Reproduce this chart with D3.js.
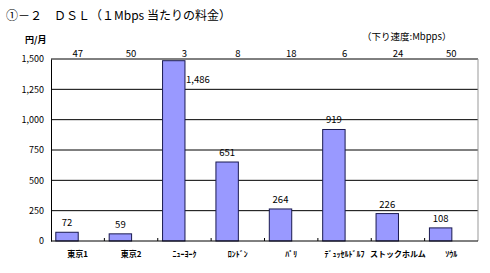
<!DOCTYPE html>
<html>
<head>
<meta charset="utf-8">
<script src="https://cdn.jsdelivr.net/npm/d3@7"></script>
<style>
  body { margin: 0; background: #fff; }
  svg text { font-family: "Noto Sans CJK JP", "Noto Sans", sans-serif; fill: #000; }
</style>
</head>
<body>
<svg id="chart" width="490" height="273"></svg>
<script>
// price per 1Mbps (yen/month)
var cities = ["東京1", "東京2", "ﾆｭｰﾖｰｸ", "ﾛﾝﾄﾞﾝ", "ﾊﾟﾘ", "ﾃﾞｭｯｾﾙﾄﾞﾙﾌ", "ストックホルム", "ｿｳﾙ"];
var prices = [72, 59, 1486, 651, 264, 919, 226, 108];
// downstream speed (Mbps)
var speeds = [47, 50, 3, 8, 18, 6, 24, 50];
var yTicks = [0, 250, 500, 750, 1000, 1250, 1500];

var plotL = 51, plotR = 478, plotT = 59, plotB = 241;

var svg = d3.select("#chart");

var x = d3.scaleBand().domain(cities).range([plotL, plotR]);
var y = d3.scaleLinear().domain([0, 1500]).range([plotB, plotT]);

// title
svg.append("text")
  .attr("x", 6).attr("y", 20)
  .attr("font-size", 12)
  .text("①－２　ＤＳＬ（１Mbps 当たりの料金）");

svg.append("text")
  .attr("x", 25).attr("y", 43)
  .attr("font-size", 9).attr("font-weight", "bold")
  .text("円/月");

svg.append("text")
  .attr("x", 362).attr("y", 40)
  .attr("font-size", 9.5)
  .text("（下り速度:Mbpps）");

// grid lines
svg.append("g")
  .selectAll("line")
  .data(yTicks.filter(function (d) { return d > 0; }))
  .enter()
  .append("line")
  .attr("x1", plotL).attr("x2", plotR)
  .attr("y1", function (d) { return y(d); })
  .attr("y2", function (d) { return y(d); })
  .attr("stroke", "#000").attr("stroke-width", 1);

// right border
svg.append("line")
  .attr("x1", plotR).attr("x2", plotR)
  .attr("y1", plotT).attr("y2", plotB)
  .attr("stroke", "#999");

// y axis
var yAxis = svg.append("g")
  .attr("transform", "translate(" + plotL + ",0)")
  .call(d3.axisLeft(y).tickValues(yTicks).tickSize(0).tickPadding(7).tickFormat(d3.format(",")));
yAxis.select(".domain").attr("stroke", "#000");
yAxis.selectAll("text").attr("font-size", 9).attr("font-family", "\"Noto Sans\", sans-serif");

// bars
var bw = x.bandwidth() * 0.42;
var off = x.bandwidth() * 0.09;
svg.append("g")
  .selectAll("rect")
  .data(prices)
  .enter()
  .append("rect")
  .attr("x", function (d, i) { return x(cities[i]) + off; })
  .attr("y", function (d) { return y(d); })
  .attr("width", bw)
  .attr("height", function (d) { return plotB - y(d); })
  .attr("fill", "#9999ff")
  .attr("stroke", "#1a1a50")
  .attr("stroke-width", 1);

// value labels
svg.append("g")
  .selectAll("text")
  .data(prices)
  .enter()
  .append("text")
  .attr("x", function (d, i) {
    return d > 1300 ? x(cities[i]) + off + bw + 1 : x(cities[i]) + off + bw / 2;
  })
  .attr("y", function (d) { return d > 1300 ? y(d) + 22 : y(d) - 6; })
  .attr("text-anchor", function (d) { return d > 1300 ? "start" : "middle"; })
  .attr("font-size", 9.5)
  .attr("font-family", "\"Noto Sans\", sans-serif")
  .text(function (d) { return d3.format(",")(d); });

// x axis
svg.append("line")
  .attr("x1", plotL).attr("x2", plotR)
  .attr("y1", plotB).attr("y2", plotB)
  .attr("stroke", "#000");

svg.append("g")
  .selectAll("line")
  .data(cities.slice(1))
  .enter()
  .append("line")
  .attr("x1", function (d) { return x(d); })
  .attr("x2", function (d) { return x(d); })
  .attr("y1", plotB).attr("y2", plotB - 3)
  .attr("stroke", "#000");

svg.append("g")
  .selectAll("text")
  .data(cities)
  .enter()
  .append("text")
  .attr("x", function (d) { return x(d) + x.bandwidth() / 2; })
  .attr("y", 257)
  .attr("text-anchor", "middle")
  .attr("font-size", 8)
  .attr("font-weight", "bold")
  .text(function (d) { return d; });

// speed labels on top
svg.append("g")
  .selectAll("text")
  .data(speeds)
  .enter()
  .append("text")
  .attr("x", function (d, i) { return x(cities[i]) + x.bandwidth() / 2; })
  .attr("y", 57)
  .attr("text-anchor", "middle")
  .attr("font-size", 9.5)
  .attr("font-family", "\"Noto Sans\", sans-serif")
  .text(function (d) { return d; });
</script>
</body>
</html>
